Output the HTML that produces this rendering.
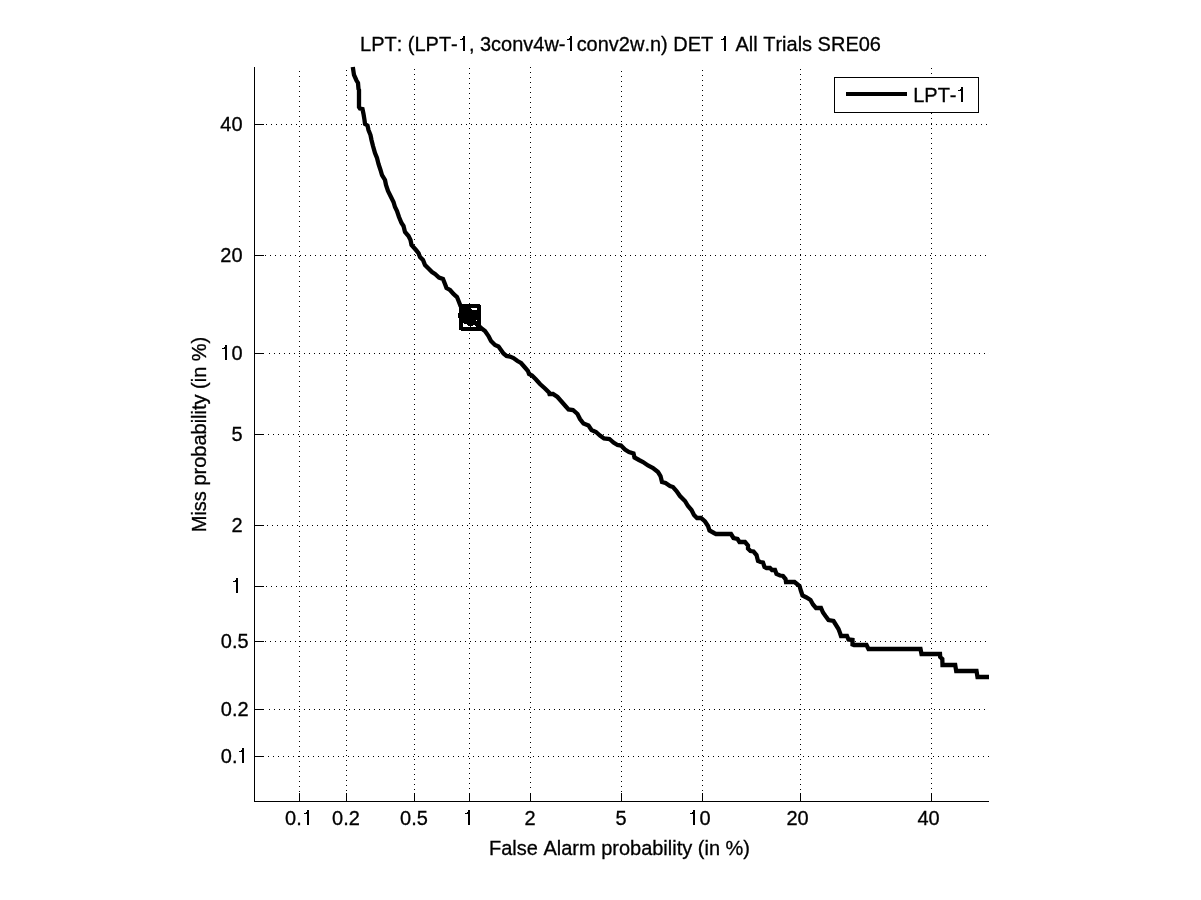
<!DOCTYPE html>
<html><head><meta charset="utf-8"><title>DET</title>
<style>
html,body{margin:0;padding:0;background:#fff;}
body{width:1201px;height:900px;overflow:hidden;}
svg{display:block;will-change:transform;}
.h{fill:none;stroke:none;}
text{font-family:"Liberation Sans",sans-serif;fill:#000;stroke:#000;stroke-width:0.3px;font-kerning:none;}
</style></head><body>
<svg width="1201" height="900" viewBox="0 0 1201 900">
<rect x="0" y="0" width="1201" height="900" fill="#fff"/>
<g stroke="#000" stroke-width="1" stroke-dasharray="1 4" shape-rendering="crispEdges" fill="none">
<path d="M299.5 792 V67"/>
<path d="M268 756.5 H989"/>
<path d="M346.5 791 V67"/>
<path d="M269 709.5 H989"/>
<path d="M414.5 790 V67"/>
<path d="M265 641.5 H989"/>
<path d="M469.5 789 V67"/>
<path d="M266 586.5 H989"/>
<path d="M530.5 788 V67"/>
<path d="M267 525.5 H989"/>
<path d="M621.5 792 V67"/>
<path d="M268 434.5 H989"/>
<path d="M702.5 791 V67"/>
<path d="M269 353.5 H989"/>
<path d="M800.5 790 V67"/>
<path d="M265 255.5 H989"/>
<path d="M931.5 789 V67"/>
<path d="M266 124.5 H989"/>
</g>
<g stroke="#000" stroke-width="1" shape-rendering="crispEdges" fill="none">
<path d="M254.5 67 V802"/><path d="M254 801.5 H989"/>
<path d="M299.5 802 V793"/><path d="M254 756.5 H264"/>
<path d="M346.5 802 V793"/><path d="M254 709.5 H264"/>
<path d="M414.5 802 V793"/><path d="M254 641.5 H264"/>
<path d="M469.5 802 V793"/><path d="M254 586.5 H264"/>
<path d="M530.5 802 V793"/><path d="M254 525.5 H264"/>
<path d="M621.5 802 V793"/><path d="M254 434.5 H264"/>
<path d="M702.5 802 V793"/><path d="M254 353.5 H264"/>
<path d="M800.5 802 V793"/><path d="M254 255.5 H264"/>
<path d="M931.5 802 V793"/><path d="M254 124.5 H264"/>
</g>
<g shape-rendering="crispEdges"><rect x="834.5" y="77.5" width="144" height="35" fill="#fff" stroke="#000"/><path d="M846 94 H907" stroke="#000" stroke-width="4"/></g>
<g font-size="20">
<text transform="matrix(1 0 0 1.045 0 -37.125)" x="299" y="825" text-anchor="middle">0.<tspan class="h">1</tspan></text>
<text transform="matrix(1 0 0 1.045 0 -34.335)" x="248.6" y="763" text-anchor="end">0.<tspan class="h">1</tspan></text>
<text transform="matrix(1 0 0 1.045 0 -37.125)" x="346" y="825" text-anchor="middle">0.2</text>
<text transform="matrix(1 0 0 1.045 0 -32.22)" x="248.6" y="716" text-anchor="end">0.2</text>
<text transform="matrix(1 0 0 1.045 0 -37.125)" x="414" y="825" text-anchor="middle">0.5</text>
<text transform="matrix(1 0 0 1.045 0 -29.16)" x="248.6" y="648" text-anchor="end">0.5</text>
<text transform="matrix(1 0 0 1.045 0 -37.125)" x="469" y="825" text-anchor="middle"><tspan class="h">1</tspan></text>
<text transform="matrix(1 0 0 1.045 0 -26.685)" x="242.6" y="593" text-anchor="end"><tspan class="h">1</tspan></text>
<text transform="matrix(1 0 0 1.045 0 -37.125)" x="530" y="825" text-anchor="middle">2</text>
<text transform="matrix(1 0 0 1.045 0 -23.94)" x="242.6" y="532" text-anchor="end">2</text>
<text transform="matrix(1 0 0 1.045 0 -37.125)" x="621" y="825" text-anchor="middle">5</text>
<text transform="matrix(1 0 0 1.045 0 -19.845)" x="242.6" y="441" text-anchor="end">5</text>
<text transform="matrix(1 0 0 1.045 0 -37.125)" x="699.5" y="825" text-anchor="middle"><tspan class="h">1</tspan>0</text>
<text transform="matrix(1 0 0 1.045 0 -16.2)" x="242.6" y="360" text-anchor="end"><tspan class="h">1</tspan>0</text>
<text transform="matrix(1 0 0 1.045 0 -37.125)" x="797.5" y="825" text-anchor="middle">20</text>
<text transform="matrix(1 0 0 1.045 0 -11.79)" x="242.6" y="262" text-anchor="end">20</text>
<text transform="matrix(1 0 0 1.045 0 -37.125)" x="928.5" y="825" text-anchor="middle">40</text>
<text transform="matrix(1 0 0 1.045 0 -5.895)" x="242.6" y="131" text-anchor="end">40</text>
<text id="title" transform="matrix(1 0 0 1.045 0 -2.295)" x="620.5" y="51" text-anchor="middle">LPT: (LPT-<tspan class="h">1</tspan>, 3conv4w-<tspan class="h">1</tspan>conv2w.n) DET <tspan class="h">1</tspan> All Trials SRE06</text>
<text id="xl" transform="matrix(1 0 0 1.045 0 -38.475)" x="619.5" y="855" text-anchor="middle">False Alarm probability (in %)</text>
<text id="yl" transform="translate(206 434.5) rotate(-90) scale(1 1.045)" text-anchor="middle">Miss probability (in %)</text>
<text id="leg" transform="matrix(1 0 0 1.045 0 -4.59)" x="913.2" y="102" text-anchor="start">LPT-<tspan class="h">1</tspan></text>
</g>
<path id="curve" d="M352.8 67 L354 75 L356.5 80.5 L358 83 L358.5 89 L359 90 L359 107 L360 108.5 L362.5 109 L363.5 114 L364.5 120 L365 124 L367.5 125.5 L368.5 130 L370.5 135 L371.5 140 L373 146 L375 153 L377 158 L378.5 164 L380.5 170 L382 175 L385 180 L386 185 L388 191 L391 197 L393.5 202 L395 207 L397 211 L399 217 L401.5 223 L403.5 226 L405 232 L408.5 236 L410.5 240 L411.5 245 L416 250 L418.5 253 L420 257 L423 260 L425 265 L429 269 L432 272 L435 274 L439 277.5 L443 279 L445 284 L446.5 288 L450 290 L453.5 294 L457 297 L459 302 L460.5 306 L469 316 L481 328 L485 331 L488.5 336 L491 341 L495 345 L498.5 346.5 L501 350 L503.5 353.5 L506.5 356 L510 356.5 L513.5 358 L517.5 361 L521 363 L524.5 367 L528 371 L529 374 L532 375.5 L536 379.5 L540 384 L545 388.5 L549 392.5 L549.5 394 L553 394 L557.5 397 L561.5 401.5 L565 405.5 L568.5 409.5 L573 410 L577.5 414 L580 419 L583.5 423.5 L588.5 425.5 L591.5 430 L596 432 L600 435.5 L604 438.5 L609.5 439 L613.5 442.5 L617.5 445 L621 445.5 L625 449.5 L629 452 L633.5 453.5 L634.5 457.5 L639 460 L643 462 L648 465.5 L653 468 L658 472 L660.5 476 L662 482 L665.5 483 L670 486 L673 487 L676.5 491 L680 496 L685 501 L688 506 L691.5 510 L694 515 L697 518 L701 518 L705 521.5 L708 526 L709.5 530.5 L714 533 L716 534 L731 534 L733.5 538 L737.5 539 L739.5 542 L745 542 L748 545.5 L748 548.5 L750.5 551 L753.5 551.5 L756.5 555 L758 561 L760.5 562 L763 562.5 L764.5 567 L766.5 568 L770 568 L772 570 L775 570 L776.5 574 L780 575.5 L783 576 L785.5 579 L786 582 L794.5 582 L799.5 586 L801 591 L802.5 595.5 L806.5 597.5 L810.5 600 L813 604.5 L816 608 L821 608 L823 612.5 L825.5 616 L828.5 620 L833.5 621 L836 625 L838.5 629 L840 633 L841 636 L847 636 L848.5 639.5 L852.5 640 L852.5 644.5 L854 645 L866.5 645 L868.5 649 L920.5 649 L921.5 654 L940 654 L940.2 657 L942.3 659 L942.5 665 L955.2 665 L956.2 671 L976.5 671 L977.5 677 L989 677" fill="none" stroke="#000" stroke-width="4.3" stroke-linejoin="miter" stroke-miterlimit="1.5" stroke-linecap="butt"/>
<g shape-rendering="crispEdges"><rect x="459" y="304" width="22" height="27" fill="#000"/><rect x="458" y="313" width="1" height="5" fill="#000"/><path d="M471 308 H477 V310 H472 V309 H471 Z" fill="#fff"/><path d="M463 323 H464 V324 H467 V325 H468 V326 H470 V327 H463 Z" fill="#fff"/><path d="M471 327 V326 H473 V325 H475 V326 H476 V327 Z" fill="#fff"/><rect x="476" y="320" width="1" height="1" fill="#fff"/><rect x="480" y="304" width="1" height="1" fill="#fff"/><rect x="459" y="330" width="2" height="1" fill="#fff"/></g>
<!--MARKER-->
<g fill="#000" shape-rendering="crispEdges">
<path d="M307 810h2v15h-2z M304 813h3v1h-3z M306 812h1v1h-1z"/>
<path d="M242 748h2v15h-2z M239 751h3v1h-3z M241 750h1v1h-1z"/>
<path d="M468 810h2v15h-2z M465 813h3v1h-3z M467 812h1v1h-1z"/>
<path d="M236 578h2v15h-2z M233 581h3v1h-3z M235 580h1v1h-1z"/>
<path d="M693 810h2v15h-2z M690 813h3v1h-3z M692 812h1v1h-1z"/>
<path d="M225 345h2v15h-2z M222 348h3v1h-3z M224 347h1v1h-1z"/>
<path d="M463 36h2v15h-2z M460 39h3v1h-3z M462 38h1v1h-1z"/>
<path d="M570 36h2v15h-2z M567 39h3v1h-3z M569 38h1v1h-1z"/>
<path d="M724 36h2v15h-2z M721 39h3v1h-3z M723 38h1v1h-1z"/>
<path d="M961 87h2v15h-2z M958 90h3v1h-3z M960 89h1v1h-1z"/>
</g>
</svg></body></html>
